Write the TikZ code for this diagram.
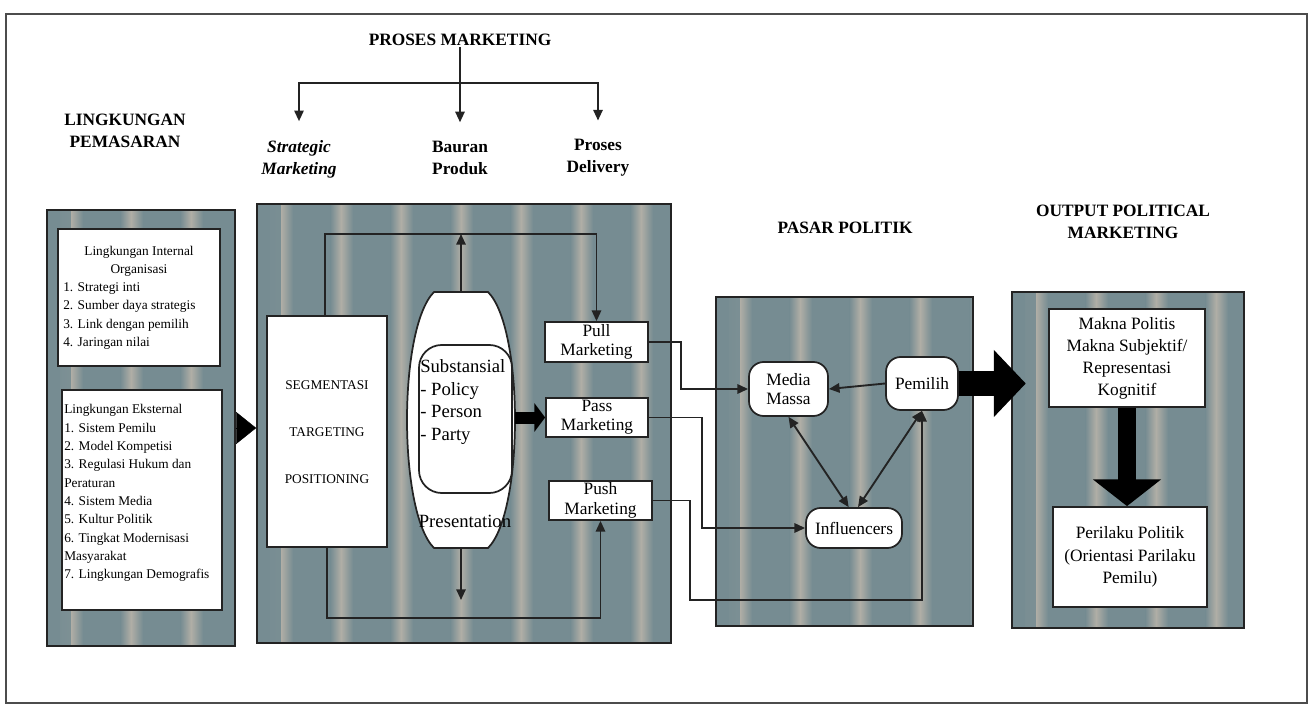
\documentclass[tikz,border=0pt]{standalone}
\usepackage{fontspec}
\setmainfont{Liberation Serif}
\usetikzlibrary{arrows.meta,fit,calc}
\definecolor{pbase}{RGB}{118,140,146}
\definecolor{plight}{RGB}{176,174,166}
\definecolor{ink}{RGB}{35,35,35}
\tikzset{
  panel/.style={draw=ink, line width=1.3pt, inner sep=0pt, fill=pbase,
    path picture={
      \foreach \k in {0,...,8}{
        \shade[left color=pbase,right color=plight]
          ([xshift=\k*45pt+10pt]path picture bounding box.south west) rectangle
          ([xshift=\k*45pt+18pt]path picture bounding box.north west);
        \shade[left color=plight,right color=pbase]
          ([xshift=\k*45pt+18pt]path picture bounding box.south west) rectangle
          ([xshift=\k*45pt+27pt]path picture bounding box.north west);
      }
    }},
  wbox/.style={draw=ink, line width=1.3pt, fill=white, inner sep=0pt},
  rbox/.style={wbox, rounded corners=11pt},
  sz/.style 2 args={minimum width=#1*0.75pt, minimum height=#2*0.75pt},
  ttl/.style={font=\bfseries\fontsize{13}{16.5}\selectfont, align=center, inner sep=1pt},
  small/.style={font=\fontsize{10}{13.75}\selectfont, inner sep=0pt},
  mid/.style={font=\fontsize{13}{14.5}\selectfont, align=center, inner sep=0pt},
  arr/.style={draw=ink, line width=1.4pt, -{Triangle[length=8pt,width=7pt]}},
  darr/.style={draw=ink, line width=1.4pt, {Triangle[length=8pt,width=7pt]}-{Triangle[length=8pt,width=7pt]}},
  fatarrow/.style={draw=black, line width=9pt, -{Triangle[length=8pt,width=21pt]}},
  bigarrow/.style={draw=black, line width=19pt, -{Triangle[length=24pt,width=49pt]}},
  downarrow/.style={draw=black, line width=13pt, -{Triangle[length=20pt,width=50pt]}},
  tri/.style={draw=black, line width=0.2pt, -{Triangle[length=15pt,width=24pt]}}
}
\begin{document}
\begin{tikzpicture}[x=0.75pt,y=-0.75pt]
\useasboundingbox (0,0) rectangle (1313,716);
% outer frame
\draw[draw=gray!60!black, line width=1pt] (6,14) rectangle (1307,703);

% titles
\node[ttl] (pm) at (460,40) {PROSES MARKETING};
\coordinate (hub) at (460,83);
\node[ttl, font=\bfseries\itshape\fontsize{13}{16.5}\selectfont] (sm) at (299,159) {Strategic\\Marketing};
\node[ttl] (bp) at (460,158) {Bauran\\Produk};
\node[ttl] (pd) at (598,158) {Proses\\Delivery};
\node[ttl] (lpt) at (125,131) {LINGKUNGAN\\PEMASARAN};
\node[ttl] (ppt) at (845,228) {PASAR POLITIK};
\node[ttl] (opt) at (1123,222) {OUTPUT POLITICAL\\MARKETING};

\draw[draw=ink, line width=1.4pt] (pm.south) -- (hub);
\draw[arr, shorten >=13pt] (hub) -| (sm.north);
\draw[arr, shorten >=13pt] (hub) -- (bp.north);
\draw[arr, shorten >=13pt] (hub) -| (pd.north);

% panels
\node[panel, fit={(47,210)(235,646)}] (lp) {};
\node[panel, fit={(257,204)(671,643)}] (mp) {};
\node[panel, fit={(716,297)(973,626)}] (pp) {};
\node[panel, fit={(1012,292)(1244,628)}] (op) {};

% left panel boxes
\node[wbox, fit={(58,229)(220,366)}] (int) {};
\node[small, align=center] (intt) at (139,261) {Lingkungan Internal\\Organisasi};
\node[small, align=left, anchor=west] (intl) at (63,316)
  {1. Strategi inti\\2. Sumber daya strategis\\3. Link dengan pemilih\\4. Jaringan nilai};
\node[wbox, fit={(62,390)(222,610)}] (ext) {};
\node[small, align=left, anchor=west] (extl) at (64,493)
  {Lingkungan Eksternal\\1. Sistem Pemilu\\2. Model Kompetisi\\3. Regulasi Hukum dan\\Peraturan\\4. Sistem Media\\5. Kultur Politik\\6. Tingkat Modernisasi\\Masyarakat\\7. Lingkungan Demografis};

% arrow left -> middle
\draw[tri] (lp.east) -- (lp.east -| mp.west);

% middle panel
\node[wbox, fit={(267,316)(387,547)}] (seg) {};
\node[font=\fontsize{10}{12}\selectfont, align=center, inner sep=0pt] (segt) at (327,432)
  {SEGMENTASI\\[23pt]TARGETING\\[23pt]POSITIONING};

\node[sz={108}{256}, inner sep=0pt, draw=none] (bar) at (461,420) {};
\draw[draw=ink, line width=1.3pt, fill=white]
  (434,292) -- (488,292) .. controls (524,328) and (524,512) .. (488,548)
  -- (434,548) .. controls (398,512) and (398,328) .. (434,292) -- cycle;
\node[wbox, rounded corners=17pt, fit={(419,345)(512,493)}] (sub) {};
\node[font=\fontsize{14}{17}\selectfont, align=left, anchor=west, inner sep=0pt] (subt) at (420,402)
  {Substansial\\- Policy\\- Person\\- Party};
\node[font=\fontsize{14}{17}\selectfont, inner sep=0pt] (pres) at (465,521) {Presentation};

\node[wbox, sz={103}{40}, mid] (pull) at (596.5,342) {Pull\\Marketing};
\node[wbox, sz={102}{39}, mid] (pass) at (597,417.5) {Pass\\Marketing};
\node[wbox, sz={103}{39}, mid] (push) at (600.5,500.5) {Push\\Marketing};

\coordinate (tl) at (325,234);
\coordinate (bl) at (327,618);
\coordinate (bd) at (461,600);
\draw[arr] (seg.north -| tl) -- (tl) -| (pull.north);
\draw[arr] (bar.north) -- (bar.north |- tl);
\draw[arr] (seg.south) -- (bl) -| (push.south);
\draw[arr] (bar.south) -- (bd);
\draw[fatarrow] (bar.east |- pass.west) -- (pass.west);

% pasar politik
\node[rbox, sz={79}{54}, mid] (media) at (788.5,389) {Media\\Massa};
\node[rbox, sz={72}{53}, mid] (pemilih) at (922,383.5) {Pemilih};
\node[rbox, sz={96}{40}, mid] (infl) at (854,528) {Influencers};

\coordinate (pc) at (922,600);
\draw[arr] (pull.east) -- ++(32,0) |- (media.west);
\draw[arr] (pass.east) -- ++(53,0) |- (infl.west);
\draw[arr] (push.east) -- ++(37,0) |- (pc) -- (pemilih.south);
\draw[arr] (pemilih.west) -- (media.east);
\draw[darr] (media.south) -- ([xshift=-4pt]infl.north);
\draw[darr] (pemilih.south) -- ([xshift=3pt]infl.north);

% output
\draw[bigarrow, shorten >=-11pt] (pemilih.east) -- (pemilih.east -| op.west);
\node[wbox, sz={156}{98}, mid, font=\fontsize{13}{16.5}\selectfont] (makna) at (1127,358)
  {Makna Politis\\Makna Subjektif/\\Representasi\\Kognitif};
\node[wbox, sz={154}{100}, mid, font=\fontsize{13}{17}\selectfont] (peri) at (1130,557)
  {Perilaku Politik\\(Orientasi Parilaku\\Pemilu)};
\draw[downarrow] (makna.south) -- (makna.south |- peri.north);
\end{tikzpicture}
\end{document}
